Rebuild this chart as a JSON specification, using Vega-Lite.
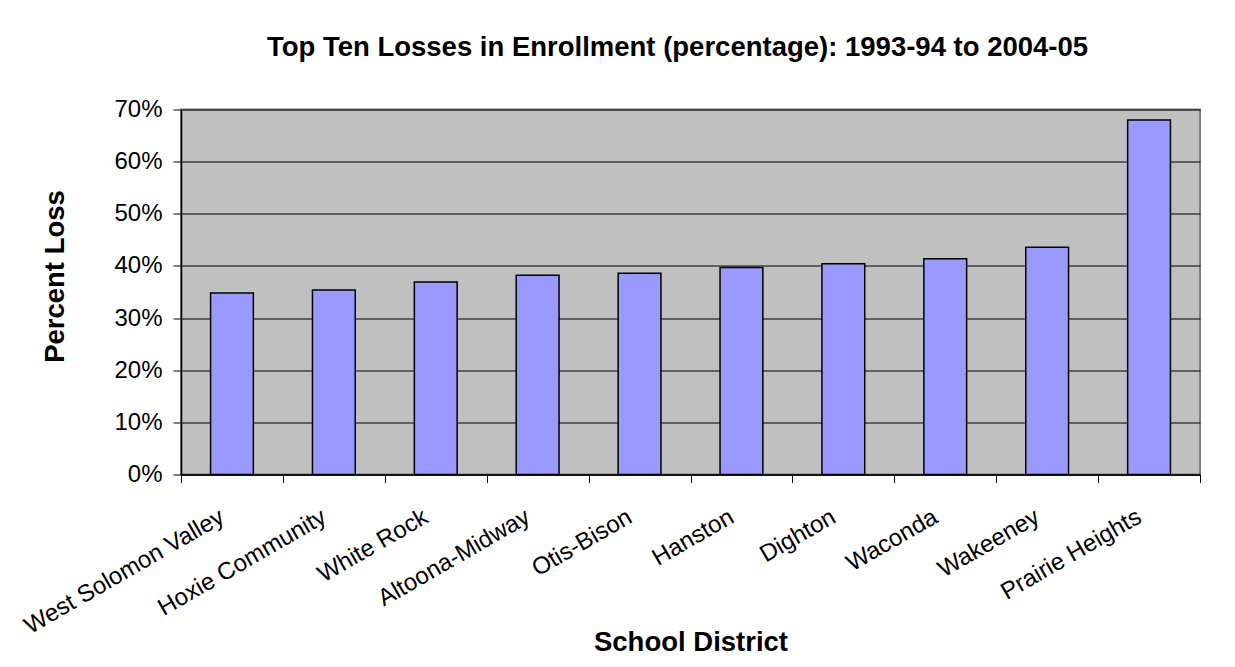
{
  "$schema": "https://vega.github.io/schema/vega-lite/v6.json",
  "width": 1019,
  "height": 365,
  "autosize": {"type": "none"},
  "padding": {"left": 181, "top": 109.5, "right": 35, "bottom": 192.5},
  "background": "white",
  "title": {
    "text": "Top Ten Losses in Enrollment (percentage): 1993-94 to 2004-05",
    "font": "Liberation Sans",
    "fontSize": 27.5,
    "fontWeight": "bold",
    "color": "black",
    "anchor": "middle",
    "frame": "group",
    "dx": -13,
    "offset": 36
  },
  "data": {
    "values": [
      {"district": "West Solomon Valley", "loss": 0.348},
      {"district": "Hoxie Community", "loss": 0.354},
      {"district": "White Rock", "loss": 0.369},
      {"district": "Altoona-Midway", "loss": 0.382},
      {"district": "Otis-Bison", "loss": 0.386},
      {"district": "Hanston", "loss": 0.397},
      {"district": "Dighton", "loss": 0.404},
      {"district": "Waconda", "loss": 0.414},
      {"district": "Wakeeney", "loss": 0.436},
      {"district": "Prairie Heights", "loss": 0.680}
    ]
  },
  "mark": {"type": "bar", "fill": "#9999FF", "stroke": "black", "strokeWidth": 1.5, "width": {"band": 0.42}},
  "encoding": {
    "x": {
      "field": "district",
      "type": "nominal",
      "sort": null,
      "title": "School District",
      "scale": {"paddingInner": 0, "paddingOuter": 0},
      "axis": {
        "labelAngle": -30,
        "labelAlign": "right",
        "labelBaseline": "top",
        "labelFont": "Liberation Sans",
        "labelFontSize": 24,
        "labelColor": "black",
        "labelPadding": 22,
        "labelOffset": -16,
        "labelOverlap": false,
        "labelLimit": 400,
        "tickBand": "extent",
        "tickColor": "black",
        "tickSize": 8,
        "domainColor": "black",
        "domainWidth": 1.5,
        "grid": false,
        "titleFont": "Liberation Sans",
        "titleFontSize": 27.5,
        "titleFontWeight": "bold",
        "titleColor": "black",
        "titleY": 168,
        "titleBaseline": "middle"
      }
    },
    "y": {
      "field": "loss",
      "type": "quantitative",
      "title": "Percent Loss",
      "scale": {"domain": [0, 0.7], "nice": false},
      "axis": {
        "values": [0, 0.1, 0.2, 0.3, 0.4, 0.5, 0.6, 0.7],
        "format": ".0%",
        "labelFont": "Liberation Sans",
        "labelFontSize": 24,
        "labelColor": "black",
        "labelPadding": 11,
        "tickColor": "black",
        "tickSize": 8,
        "domainColor": "black",
        "domainWidth": 1.5,
        "grid": true,
        "gridColor": "black",
        "gridWidth": 1,
        "titleFont": "Liberation Sans",
        "titleFontSize": 27.5,
        "titleFontWeight": "bold",
        "titleColor": "black",
        "titleAngle": -90,
        "titleX": -126,
        "titleY": 166.5,
        "titleAlign": "center",
        "titleBaseline": "middle"
      }
    }
  },
  "config": {
    "view": {"fill": "#C0C0C0", "stroke": "#808080", "strokeWidth": 2}
  }
}
